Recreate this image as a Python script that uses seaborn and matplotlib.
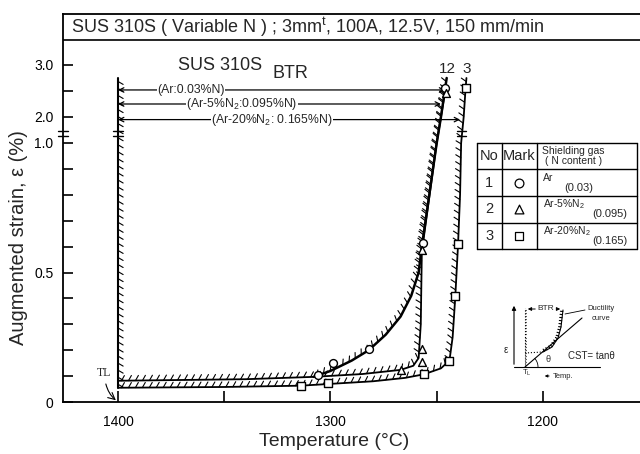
import numpy as np
import pandas as pd
import matplotlib.pyplot as plt
import matplotlib.patheffects as pe
import seaborn as sns

W, H = 640, 454

# ── values: temperature (°C), augmented strain (%) ──
ar_temp = [1306, 1299, 1282, 1256.5, 1246]
ar_strain = [0.104, 0.152, 0.203, 0.612, 2.55]
n5_temp = [1267, 1257, 1257, 1256.8, 1245.8]
n5_strain = [0.124, 0.156, 0.203, 0.585, 2.46]
n20_temp = [1314, 1301, 1256, 1244, 1241.4, 1240, 1236.4]
n20_strain = [0.063, 0.072, 0.107, 0.157, 0.41, 0.61, 2.55]

# ductility curves as drawn through the points
ar_curve_temp = [1308, 1300, 1290, 1282, 1274, 1267, 1262, 1258.5, 1257, 1250, 1248, 1245.3]
ar_curve_strain = [0.097, 0.12, 0.16, 0.20, 0.26, 0.33, 0.41, 0.50, 0.60, 1.0, 2.0, 2.75]
n5_curve_temp = [1400, 1340, 1308, 1285, 1267, 1261, 1258.5, 1257.5, 1257, 1250, 1248, 1246]
n5_curve_strain = [0.082, 0.088, 0.097, 0.108, 0.124, 0.140, 0.17, 0.30, 0.58, 1.0, 2.0, 2.5]
n20_curve_temp = [1400, 1350, 1314, 1300, 1280, 1265, 1256, 1248, 1244, 1242.5, 1241.3,
                  1240, 1239, 1238.5, 1237.3, 1236.4, 1236]
n20_curve_strain = [0.055, 0.058, 0.063, 0.070, 0.080, 0.093, 0.107, 0.13, 0.16, 0.25, 0.40,
                    0.60, 0.80, 1.0, 2.0, 2.55, 2.75]

# BTR arrows: strain level, end temperature, label
btr_strain = [2.52, 2.25, 1.95]
btr_end = [1246, 1248, 1239]
btr_labels = ["(Ar:0.03%N)", "(Ar-5%N$_2$:0.095%N)", "(Ar-20%N$_2$: 0.165%N)"]
btr_label_x = [191, 242, 272]
TL = 1400

# legend table
table_no = ["1", "2", "3"]
table_mark = ["o", "^", "s"]
table_gas = ["Ar", "Ar-5%N$_2$", "Ar-20%N$_2$"]
table_content = ["(0.03)", "(0.095)", "(0.165)"]

x_major = [1400, 1300, 1200]
x_minor = [1350, 1250]
y_low_ticks = [0, 0.1, 0.2, 0.3, 0.4, 0.5, 0.6, 0.7, 0.8, 0.9, 1.0]
y_up_ticks = [2.0, 2.5, 3.0]
y_labels = {0: "0", 0.5: "0.5", 1.0: "1.0", 2.0: "2.0", 3.0: "3.0"}


def ymap(s):
    # broken axis: 0-1.0 linear, then 2.0-3.0 compressed above the break
    s = np.asarray(s, float)
    return np.where(s <= 1.0, s, 1.1004 + (s - 2.0) * 0.2008)


sns.set_theme(style="ticks")
plt.rcParams["font.family"] = ["Liberation Sans", "DejaVu Sans"]
plt.rcParams["mathtext.fontset"] = "custom"
plt.rcParams["mathtext.rm"] = "Liberation Sans"
plt.rcParams["mathtext.it"] = "Liberation Sans:italic"

fig = plt.figure(figsize=(W / 100, H / 100), dpi=100)
ax = fig.add_axes([63 / W, 52 / H, 587 / W, 388 / H])
ax.set_xlim(1425.9, 1149.6)
ax.set_ylim(0, 388 / 259)


def ftext(x, y, s, **kw):
    kw.setdefault("va", "center")
    fig.text(x / W, 1 - y / H, s, **kw)


hatch = [pe.withTickedStroke(spacing=5, angle=60, length=0.85, linewidth=0.8)]

# curves
for t, s, lw in [(n20_curve_temp, n20_curve_strain, 1.3),
                 (n5_curve_temp, n5_curve_strain, 1.3),
                 (ar_curve_temp, ar_curve_strain, 1.8)]:
    sns.lineplot(x=t, y=ymap(s), sort=False, estimator=None, color="black",
                 lw=lw, ax=ax, path_effects=hatch)

# BTR start line at TL (drawn downward so ticks fall on the right)
sns.lineplot(x=[TL, TL], y=ymap([2.75, 0.055]), sort=False, estimator=None,
             color="black", lw=1.5, ax=ax, path_effects=hatch)

# markers
for t, s, m in [(ar_temp, ar_strain, "o"), (n5_temp, n5_strain, "^"),
                (n20_temp, n20_strain, "s")]:
    sns.scatterplot(x=t, y=ymap(s), marker=m, s=32, facecolor="white",
                    edgecolor="black", linewidth=1.0, ax=ax, zorder=5)

# BTR arrows
for s, te, lab, lx in zip(btr_strain, btr_end, btr_labels, btr_label_x):
    yy = float(ymap(s))
    ax.annotate("", xy=(te, yy), xytext=(TL, yy),
                arrowprops=dict(arrowstyle="<->", lw=0.9, color="black",
                                shrinkA=0, shrinkB=0, mutation_scale=8))
    ftext(lx, (402 - yy * 259), lab, ha="center", fontsize=8.8,
          bbox=dict(fc="white", ec="none", pad=0.3))

# break marks on axis, TL line and line 3
for yb in [1.027, 1.046]:
    for xc, half in [(1425.9, 2.2), (TL, 2.2), (1238.2, 2.2)]:
        ax.plot([xc - half, xc + half], [yb, yb], color="black", lw=1.0,
                clip_on=False)

# axes styling
ax.spines["right"].set_visible(False)
for side in ["left", "bottom", "top"]:
    ax.spines[side].set_linewidth(1.3)
    ax.spines[side].set_color("black")
ax.axhline(362 / 259, color="black", lw=1.2)

ax.set_xticks(x_major)
ax.set_xticks(x_minor, minor=True)
ax.set_xticklabels([str(v) for v in x_major])
yt = list(y_low_ticks) + list(y_up_ticks)
ax.set_yticks(ymap(yt))
ax.set_yticklabels([y_labels.get(v, "") for v in yt])
ax.tick_params(axis="x", which="both", direction="in", length=8, width=1.2,
               pad=9, labelsize=10, colors="black")
ax.tick_params(axis="y", direction="in", length=7, width=1.2, pad=7,
               labelsize=10, colors="black")

ax.set_xlabel("Temperature (°C)", fontsize=14)
ax.xaxis.set_label_coords((334 - 63) / 587, -(433 - 402) / 388)
ax.set_ylabel("Augmented strain, ε (%)", fontsize=14.5)
ax.yaxis.set_label_coords((28 - 63) / 587, (402 - 238) / 388)

# texts
ftext(71, 27, "SUS 310S ( Variable N ) ; 3mm$^{\\rm t}$, 100A, 12.5V, 150 mm/min",
      fontsize=13)
ftext(178, 66, "SUS 310S", fontsize=13)
ftext(272, 74, "BTR", fontsize=13)
ftext(447, 69, "12", fontsize=11, ha="center")
ftext(466.5, 69, "3", fontsize=11, ha="center")
ftext(104, 373, "TL", fontsize=8.5, ha="center", family="Liberation Serif")
ax.annotate("", xy=(TL, 0), xytext=(1406, 0.08),
            arrowprops=dict(arrowstyle="->", lw=0.8, color="black",
                            connectionstyle="arc3,rad=0.2"))

# legend table
tab = fig.add_axes([476.7 / W, 1 - 249.3 / H, 160 / W, 106.6 / H])
tab.set_xlim(0, 160)
tab.set_ylim(106.6, 0)
tab.axis("off")
for yv in [0, 26.6, 53.3, 80, 106.6]:
    tab.plot([0, 160], [yv, yv], color="black", lw=1.0, clip_on=False)
for xv in [0, 25, 60, 160]:
    tab.plot([xv, xv], [0, 106.6], color="black", lw=1.0, clip_on=False)
tab.text(12.5, 13.3, "No", ha="center", va="center", fontsize=10.5)
tab.text(42.5, 13.3, "Mark", ha="center", va="center", fontsize=10.5)
tab.text(65, 8, "Shielding gas", ha="left", va="center", fontsize=7.5)
tab.text(68, 18, "( N content )", ha="left", va="center", fontsize=7.5)
for i, (no, mk, gas, cont) in enumerate(zip(table_no, table_mark, table_gas, table_content)):
    yc = 26.6 * (i + 1) + 13.3
    tab.text(12.5, yc, no, ha="center", va="center", fontsize=10.5)
    sns.scatterplot(x=[42.5], y=[yc], marker=mk, s=40, facecolor="white",
                    edgecolor="black", linewidth=0.9, ax=tab, clip_on=False)
    tab.text(66, yc - 5, gas, ha="left", va="center", fontsize=7.5)
    tab.text(116 if i else 88, yc + 5, cont, ha="left", va="center", fontsize=8)

# schematic inset
ins = fig.add_axes([500 / W, 1 - 385 / H, 140 / W, 85 / H])
ins.set_xlim(0, 140)
ins.set_ylim(85, 0)
ins.axis("off")
sk_curve_x = [43, 52, 58, 61, 63]
sk_curve_y = [52, 47, 38, 27, 10]
ins.annotate("", xy=(14, 3), xytext=(14, 67),
             arrowprops=dict(arrowstyle="-|>", lw=0.8, color="black", mutation_scale=6))
ins.plot([14, 100], [67, 67], color="black", lw=0.8)
ins.plot([25, 25], [67, 8], color="black", lw=0.8, ls=":",
         path_effects=[pe.withTickedStroke(spacing=2.2, angle=-90, length=0.8)])
ins.plot(sk_curve_x, sk_curve_y, color="black", lw=0.8,
         path_effects=[pe.withTickedStroke(spacing=2.2, angle=90, length=0.8)])
ins.plot([25, 43], [53, 52], color="black", lw=0.8, ls=":")
ins.plot([25, 82], [67, 18], color="black", lw=0.8)
ins.annotate("", xy=(25, 9), xytext=(38, 9),
             arrowprops=dict(arrowstyle="-|>", lw=0.7, color="black", mutation_scale=5))
ins.annotate("", xy=(63, 9), xytext=(55, 9),
             arrowprops=dict(arrowstyle="-|>", lw=0.7, color="black", mutation_scale=5))
ins.text(46, 9, "BTR", ha="center", va="center", fontsize=6)
ins.plot([65, 85], [14, 10], color="black", lw=0.6)
ins.text(87, 9, "Ductility", ha="left", va="center", fontsize=5.5)
ins.text(92, 18, "curve", ha="left", va="center", fontsize=5.5)
th = np.linspace(0, np.deg2rad(41), 20)
ins.plot(25 + 13 * np.cos(th), 67 - 13 * np.sin(th), color="black", lw=0.6)
ins.text(48, 60, "θ", ha="center", va="center", fontsize=6.5)
ins.text(68, 56, "CST= tanθ", ha="left", va="center", fontsize=7)
ins.text(27, 73, "T$_{\\rm L}$", ha="center", va="center", fontsize=5.5)
ins.annotate("", xy=(42, 76), xytext=(52, 76),
             arrowprops=dict(arrowstyle="-|>", lw=0.6, color="black", mutation_scale=4))
ins.text(53, 76, "Temp.", ha="left", va="center", fontsize=5.5)
ins.text(6, 50, "ε", ha="center", va="center", fontsize=7)

fig.savefig("out.png", dpi=100)
